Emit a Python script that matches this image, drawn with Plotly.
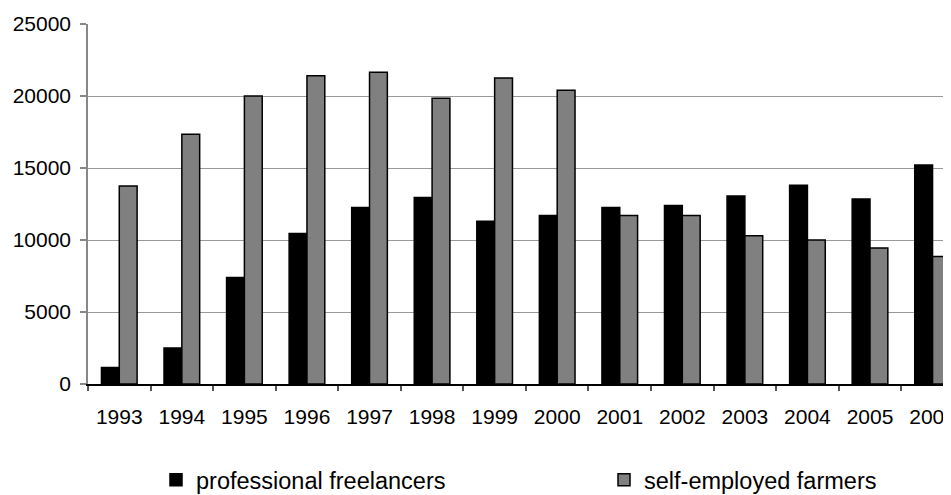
import plotly.graph_objects as go

years = ["1993", "1994", "1995", "1996", "1997", "1998", "1999",
         "2000", "2001", "2002", "2003", "2004", "2005", "2006"]
freelancers = [1150, 2500, 7400, 10450, 12250, 12950, 11300,
               11700, 12250, 12400, 13050, 13800, 12850, 15200]
farmers = [13750, 17350, 20000, 21400, 21650, 19850, 21250,
           20400, 11700, 11700, 10300, 10000, 9450, 8850]
y_ticks = [0, 5000, 10000, 15000, 20000, 25000]

# page body has an 8px margin, so the figure is sized to the visible area
W, H = 943, 487
L, R, T, B = 80, 0, 16, 111
cat_w = 62.56
x_end = -0.5 + (W - L - R) / cat_w

font = "Liberation Sans, Arial, sans-serif"

fig = go.Figure()
fig.add_trace(go.Bar(
    x=years, y=freelancers, name="professional freelancers",
    marker=dict(color="#000000", line=dict(color="#000000", width=1.5)),
    legend="legend"))
fig.add_trace(go.Bar(
    x=years, y=farmers, name="self-employed farmers",
    marker=dict(color="#808080", line=dict(color="#000000", width=1.5)),
    legend="legend2"))

fig.update_layout(
    width=W, height=H,
    margin=dict(l=L, r=R, t=T, b=B, autoexpand=False),
    paper_bgcolor="white", plot_bgcolor="white",
    barmode="group", bargap=0.43, bargroupgap=0,
    font=dict(family=font, size=20, color="#000000"),
    showlegend=True,
    legend=dict(xref="container", yref="container", x=148 / W, y=1 - 472 / H,
                xanchor="left", yanchor="middle", orientation="h",
                font=dict(size=23.5), bgcolor="rgba(0,0,0,0)", borderwidth=0),
    legend2=dict(xref="container", yref="container", x=596 / W, y=1 - 472 / H,
                 xanchor="left", yanchor="middle", orientation="h",
                 font=dict(size=23.5), bgcolor="rgba(0,0,0,0)", borderwidth=0),
)
fig.update_xaxes(
    type="category", range=[-0.5, x_end],
    showline=True, linecolor="#000000", linewidth=1.5,
    ticks="outside", tickson="boundaries", ticklen=5, tickcolor="#555555",
    tickwidth=1.5, tickfont=dict(size=21), ticklabelstandoff=13,
    showgrid=False, zeroline=False,
)
fig.update_yaxes(
    range=[0, 25000], tickvals=y_ticks, ticktext=[str(v) for v in y_ticks],
    showline=True, linecolor="#888888", linewidth=1.5,
    ticks="outside", ticklen=6, tickcolor="#888888", tickwidth=1.5,
    tickfont=dict(size=21), ticklabelstandoff=5,
    showgrid=True, gridcolor="#999999", gridwidth=1.2, zeroline=False,
)

fig.write_html("out.html")
